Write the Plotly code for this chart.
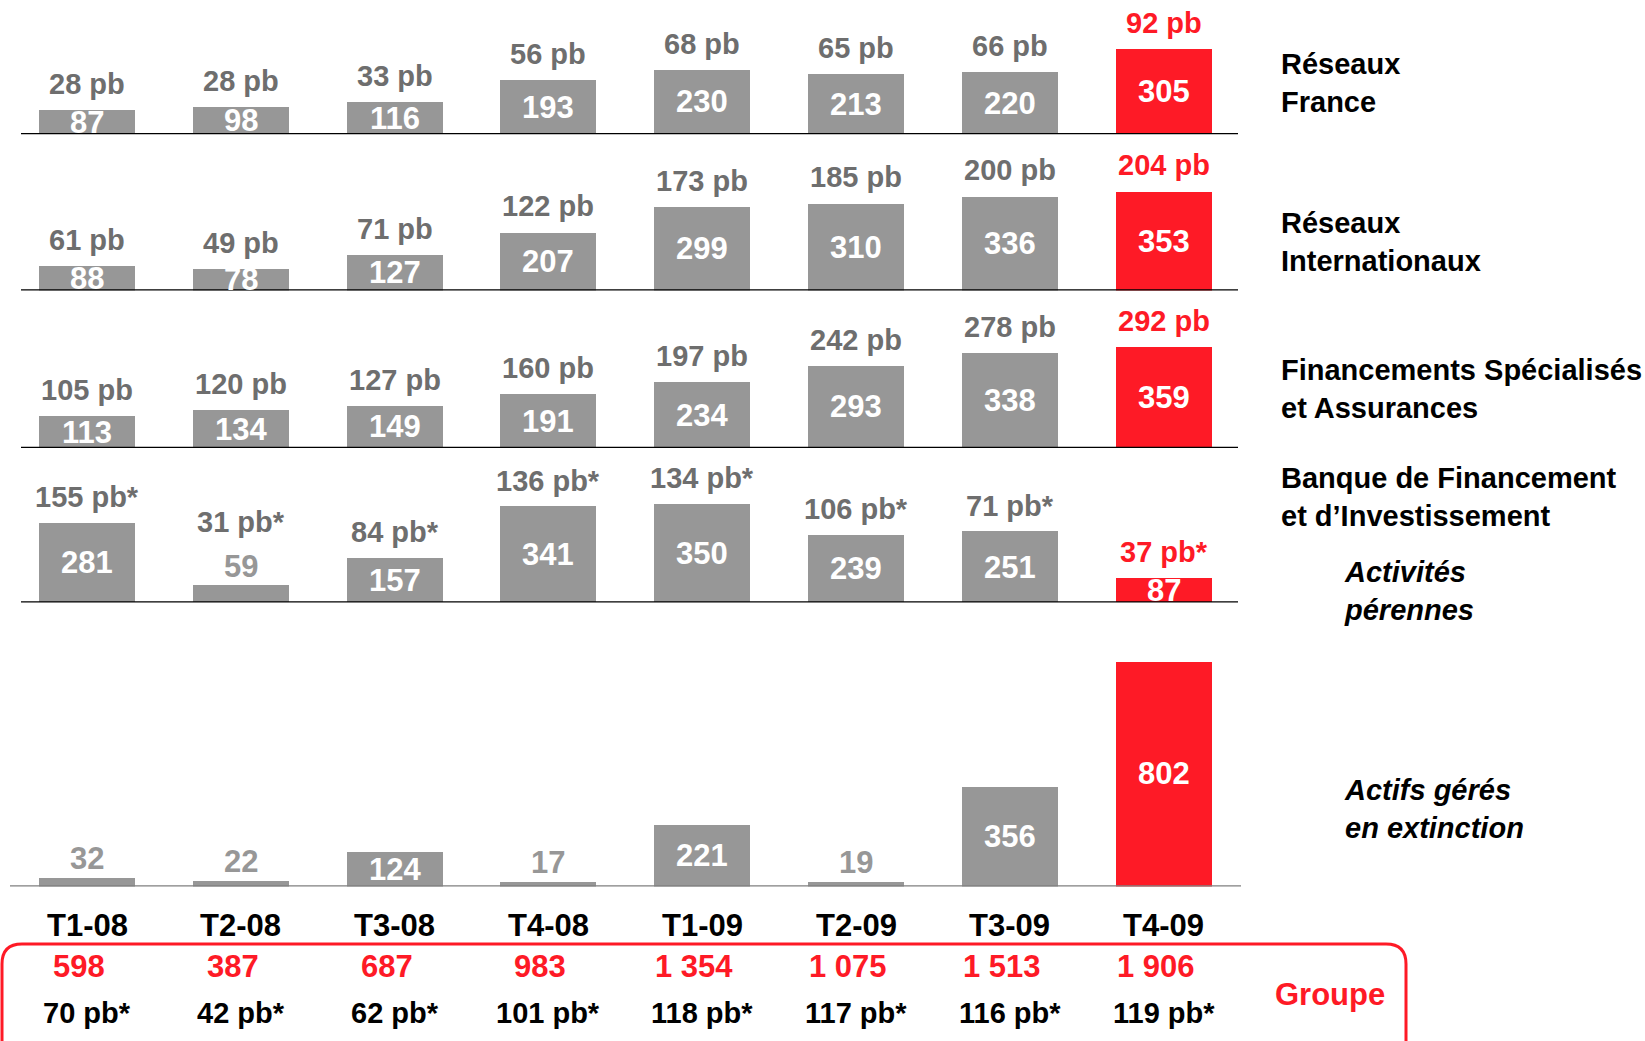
import plotly.graph_objects as go

# ---------------- data ----------------
quarters = ["T1-08", "T2-08", "T3-08", "T4-08", "T1-09", "T2-09", "T3-09", "T4-09"]

reseaux_france = [87, 98, 116, 193, 230, 213, 220, 305]
reseaux_france_pb = ["28 pb", "28 pb", "33 pb", "56 pb", "68 pb", "65 pb", "66 pb", "92 pb"]

reseaux_inter = [88, 78, 127, 207, 299, 310, 336, 353]
reseaux_inter_pb = ["61 pb", "49 pb", "71 pb", "122 pb", "173 pb", "185 pb", "200 pb", "204 pb"]

fin_spec = [113, 134, 149, 191, 234, 293, 338, 359]
fin_spec_pb = ["105 pb", "120 pb", "127 pb", "160 pb", "197 pb", "242 pb", "278 pb", "292 pb"]

bfi_perennes = [281, 59, 157, 341, 350, 239, 251, 87]
bfi_perennes_pb = ["155 pb*", "31 pb*", "84 pb*", "136 pb*", "134 pb*", "106 pb*", "71 pb*", "37 pb*"]

actifs_extinction = [32, 22, 124, 17, 221, 19, 356, 802]

groupe_total = ["598", "387", "687", "983", "1 354", "1 075", "1 513", "1 906"]
groupe_pb = ["70 pb*", "42 pb*", "62 pb*", "101 pb*", "118 pb*", "117 pb*", "116 pb*", "119 pb*"]

panel_labels = [
    "Réseaux<br>France",
    "Réseaux<br>Internationaux",
    "Financements Spécialisés<br>et Assurances",
    "Banque de Financement<br>et d’Investissement",
]
sub_labels = ["Activités<br>pérennes", "Actifs gérés<br>en extinction"]
groupe_label = "Groupe"

# ---------------- styling / geometry ----------------
W, H = 1645, 1041
GRAY = "#979797"
DGRAY = "#6E6E6E"
RED = "#FE1A26"
FONT = "Liberation Sans, Arial, sans-serif"

PX_PER_UNIT = 0.281
x0_px, dx_px = 87.0, 153.8
x_range = [(0 - x0_px) / dx_px, (W - x0_px) / dx_px]
bar_w = 96.0 / dx_px
SMALL = 70  # below this, value label is drawn above the bar


def py(p):  # pixel y -> paper
    return 1 - p / H


def px(p):  # pixel x -> paper
    return p / W


panels = [
    (reseaux_france, reseaux_france_pb, 134.3, 150),
    (reseaux_inter, reseaux_inter_pb, 290.6, 150),
    (fin_spec, fin_spec_pb, 447.9, 150),
    (bfi_perennes, bfi_perennes_pb, 602.4, 150),
    (actifs_extinction, None, 886.6, 270),
]

xs = list(range(len(quarters)))
colors = [GRAY] * (len(quarters) - 1) + [RED]

fig = go.Figure()
annotations = []
shapes = []
layout_axes = {}

for k, (vals, pbs, base_px, h_px) in enumerate(panels, start=1):
    yname = "y" if k == 1 else f"y{k}"
    axkey = "yaxis" if k == 1 else f"yaxis{k}"
    top_px = max(base_px - h_px, 0.0)
    h_px = base_px - top_px
    layout_axes[axkey] = dict(
        domain=[py(base_px), py(top_px)],
        range=[0, h_px / PX_PER_UNIT],
        visible=False, fixedrange=True,
    )
    fig.add_trace(go.Bar(
        x=xs, y=vals, xaxis="x", yaxis=yname, width=bar_w,
        marker=dict(color=colors, line=dict(width=0)),
        showlegend=False, hoverinfo="skip",
    ))
    # value labels
    for i, v in enumerate(vals):
        if v < SMALL:
            annotations.append(dict(
                x=i, y=v, xref="x", yref=yname, text=f"<b>{v}</b>",
                showarrow=False, yanchor="middle", yshift=19,
                font=dict(family=FONT, size=31, color=GRAY)))
        else:
            annotations.append(dict(
                x=i, y=v / 2, xref="x", yref=yname, text=f"<b>{v}</b>",
                showarrow=False, yanchor="middle",
                font=dict(family=FONT, size=31, color="white")))
    # pb labels
    if pbs is not None:
        for i, (v, t) in enumerate(zip(vals, pbs)):
            shift = 64 if v < SMALL else 26
            annotations.append(dict(
                x=i, y=v, xref="x", yref=yname, text=f"<b>{t}</b>",
                showarrow=False, yanchor="middle", yshift=shift,
                font=dict(family=FONT, size=29,
                          color=RED if i == len(vals) - 1 else DGRAY)))
    # baseline
    if k < 5:
        shapes.append(dict(type="line", xref="paper", yref=yname,
                           x0=px(21), x1=px(1238), y0=0, y1=0,
                           line=dict(color="black", width=2.5)))
    else:
        shapes.append(dict(type="line", xref="paper", yref=yname,
                           x0=px(10), x1=px(1241), y0=0, y1=0,
                           line=dict(color="#7F7F7F", width=2.5)))

# bottom texts
for i, q in enumerate(quarters):
    annotations.append(dict(x=i, y=py(925), xref="x", yref="paper",
                            text=f"<b>{q}</b>", showarrow=False, yanchor="middle",
                            font=dict(family=FONT, size=31, color="black")))
    annotations.append(dict(x=i, y=py(966), xref="x", yref="paper",
                            text=f"<b>{groupe_total[i]}</b>", showarrow=False,
                            yanchor="middle", xshift=-8,
                            font=dict(family=FONT, size=31, color=RED)))
    annotations.append(dict(x=i, y=py(1013), xref="x", yref="paper",
                            text=f"<b>{groupe_pb[i]}</b>", showarrow=False,
                            yanchor="middle",
                            font=dict(family=FONT, size=29, color="black")))

# right-hand labels
for lab, ycen in zip(panel_labels, [83.4, 241.8, 388.7, 496.7]):
    annotations.append(dict(x=px(1279), y=py(ycen), xref="paper", yref="paper",
                            text=f"<b>{lab}</b>", showarrow=False, xanchor="left",
                            yanchor="middle", align="left",
                            font=dict(family=FONT, size=29, color="black")))
for lab, ycen in zip(sub_labels, [590.6, 809.3]):
    annotations.append(dict(x=px(1341.7), y=py(ycen), xref="paper", yref="paper",
                            text=f"<b><i>{lab}</i></b>", showarrow=False, xanchor="left",
                            yanchor="middle", align="left",
                            font=dict(family=FONT, size=29, color="black")))
annotations.append(dict(x=px(1330), y=py(994.5), xref="paper", yref="paper",
                        text=f"<b>{groupe_label}</b>", showarrow=False,
                        xanchor="center", yanchor="middle",
                        font=dict(family=FONT, size=31, color=RED)))

# red rounded frame
r = 20
path = (f"M {px(2)},{py(1060)} L {px(2)},{py(944 + r)} "
        f"Q {px(2)},{py(944)} {px(2 + r)},{py(944)} "
        f"L {px(1406 - r)},{py(944)} Q {px(1406)},{py(944)} {px(1406)},{py(944 + r)} "
        f"L {px(1406)},{py(1060)}")
shapes.append(dict(type="path", xref="paper", yref="paper", path=path,
                   line=dict(color=RED, width=3)))

fig.update_layout(
    width=W, height=H,
    margin=dict(l=0, r=0, t=0, b=0),
    paper_bgcolor="white", plot_bgcolor="white",
    xaxis=dict(domain=[0, 1], range=x_range, visible=False, fixedrange=True),
    annotations=annotations, shapes=shapes,
    bargap=0, showlegend=False,
    **layout_axes,
)

fig.write_html("out.html", config={"displayModeBar": False})
